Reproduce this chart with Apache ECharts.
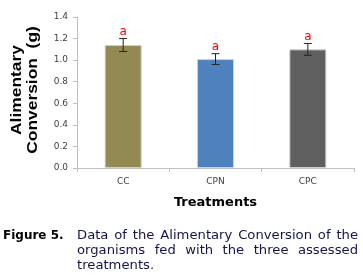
<!DOCTYPE html>
<html>
<head>
<meta charset="utf-8">
<script src="https://cdn.jsdelivr.net/npm/echarts@6/dist/echarts.min.js"></script>
<style>
  html, body { margin: 0; padding: 0; background: #fff; }
  #chart { width: 363px; height: 278px; }
</style>
</head>
<body>
<div id="chart"></div>
<script>
// data
const categories = ['CC', 'CPN', 'CPC'];
const means = [1.14, 1.01, 1.10];
const errors = [0.06, 0.05, 0.055];
const letters = ['a', 'a', 'a'];
const barColors = ['#938953', '#4f81bd', '#5f5f5f'];
const yTicks = { min: 0, max: 1.4, interval: 0.2 };
const captionLines = [
  'Data of the Alimentary Conversion of the',
  'organisms fed with the three assessed',
  'treatments.'
];

const chart = echarts.init(document.getElementById('chart'));

const labelFont = 'Verdana, "DejaVu Sans", sans-serif';
const captionFont = '11.5px "DejaVu Sans", sans-serif';
const captionStretch = 1.145;

// justify caption lines between x0 and x1 (last line left aligned)
const measure = document.createElement('canvas').getContext('2d');
measure.font = captionFont;
const captionGraphics = [];
const x0 = 77, x1 = 358;
captionLines.forEach((line, li) => {
  const y = 230 + li * 15;
  const words = line.split(' ');
  const widths = words.map((w) => measure.measureText(w).width * captionStretch);
  const total = widths.reduce((a, b) => a + b, 0);
  const last = li === captionLines.length - 1;
  const gap = last ? measure.measureText(' ').width * captionStretch
    : (x1 - x0 - total) / (words.length - 1);
  let x = x0;
  words.forEach((w, i) => {
    captionGraphics.push({
      type: 'text', x, y, scaleX: captionStretch,
      style: { text: w, fill: '#14144a', font: captionFont }
    });
    x += widths[i] + gap;
  });
});

const option = {
  animation: false,
  grid: { left: 77, right: 9, top: 17, bottom: 110 },
  xAxis: {
    type: 'category',
    data: categories,
    axisLine: { lineStyle: { color: '#bfbfbf' } },
    axisTick: { show: true, lineStyle: { color: '#bfbfbf' }, length: 4 },
    axisLabel: { color: '#404040', fontFamily: labelFont, fontSize: 9, margin: 9 },
    name: 'Treatments',
    nameLocation: 'middle',
    nameGap: 28,
    nameTextStyle: { color: '#000', fontFamily: labelFont, fontWeight: 'bold', fontSize: 13 }
  },
  yAxis: {
    type: 'value',
    min: yTicks.min,
    max: yTicks.max,
    interval: yTicks.interval,
    axisLine: { show: true, lineStyle: { color: '#bfbfbf' } },
    axisTick: { show: true, lineStyle: { color: '#bfbfbf' }, length: 4 },
    splitLine: { show: false },
    axisLabel: {
      color: '#404040', fontFamily: labelFont, fontSize: 9, margin: 9,
      formatter: (v) => v.toFixed(1)
    }
  },
  graphic: [
    {
      type: 'text',
      x: 24.5, y: 90,
      rotation: Math.PI / 2,
      scaleX: 1.2,
      style: {
        text: 'Alimentary\nConversion  (g)',
        fill: '#000',
        font: 'bold 14.5px Arial, "Liberation Sans", sans-serif',
        align: 'center',
        verticalAlign: 'middle',
        lineHeight: 16
      }
    },
    {
      type: 'text',
      x: 3, y: 230,
      style: { text: 'Figure 5.', fill: '#000', font: 'bold 12px Verdana, "DejaVu Sans", sans-serif' }
    }
  ].concat(captionGraphics),
  series: [
    {
      type: 'bar',
      barWidth: 37,
      data: means.map((v, i) => ({
        value: v,
        itemStyle: { color: barColors[i], borderColor: '#cfcfcf', borderWidth: 1 }
      }))
    },
    {
      type: 'custom',
      data: means.map((v, i) => [i, v, errors[i]]),
      renderItem: (params, api) => {
        const x = api.value(0);
        const m = api.value(1);
        const e = api.value(2);
        const top = api.coord([x, m + e]);
        const bot = api.coord([x, m - e]);
        const cap = 4;
        const s = { stroke: '#222', lineWidth: 1 };
        return {
          type: 'group',
          children: [
            { type: 'line', shape: { x1: top[0], y1: top[1], x2: bot[0], y2: bot[1] }, style: s },
            { type: 'line', shape: { x1: top[0] - cap, y1: top[1], x2: top[0] + cap, y2: top[1] }, style: s },
            { type: 'line', shape: { x1: bot[0] - cap, y1: bot[1], x2: bot[0] + cap, y2: bot[1] }, style: s },
            {
              type: 'text',
              x: top[0], y: top[1] - 1,
              style: {
                text: letters[params.dataIndex],
                fill: '#ff0000',
                font: '12px Verdana, "DejaVu Sans", sans-serif',
                align: 'center',
                verticalAlign: 'bottom'
              }
            }
          ]
        };
      },
      z: 5
    }
  ]
};

chart.setOption(option);
</script>
</body>
</html>
